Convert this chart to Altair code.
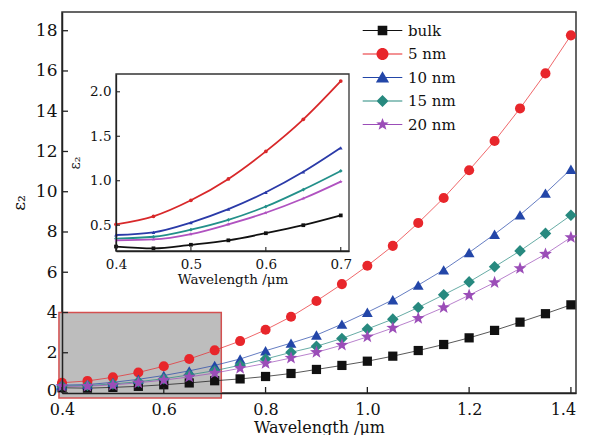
import altair as alt
import pandas as pd

# ---------------- data ----------------
wavelength = [0.40, 0.45, 0.50, 0.55, 0.60, 0.65, 0.70, 0.75, 0.80, 0.85, 0.90,
              0.95, 1.00, 1.05, 1.10, 1.15, 1.20, 1.25, 1.30, 1.35, 1.40]
series_names = ["bulk", "5 nm", "10 nm", "15 nm", "20 nm"]

bulk = [0.26, 0.24, 0.28, 0.33, 0.41, 0.50, 0.61, 0.70, 0.82, 0.97, 1.17,
        1.37, 1.58, 1.83, 2.11, 2.41, 2.74, 3.11, 3.52, 3.94, 4.38]
nm5 = [0.51, 0.60, 0.78, 1.02, 1.33, 1.69, 2.12, 2.58, 3.14, 3.79, 4.57,
       5.41, 6.32, 7.31, 8.45, 9.69, 11.07, 12.52, 14.14, 15.88, 17.77]
nm10 = [0.39, 0.42, 0.53, 0.68, 0.87, 1.10, 1.37, 1.69, 2.10, 2.48, 2.88,
        3.42, 4.01, 4.63, 5.36, 6.12, 6.98, 7.89, 8.85, 9.93, 11.12]
nm15 = [0.35, 0.37, 0.45, 0.56, 0.71, 0.90, 1.11, 1.38, 1.69, 2.02, 2.32,
        2.71, 3.18, 3.67, 4.25, 4.88, 5.52, 6.27, 7.06, 7.93, 8.83]
nm20 = [0.33, 0.34, 0.40, 0.51, 0.64, 0.80, 0.99, 1.23, 1.47, 1.74, 2.02,
        2.38, 2.79, 3.23, 3.71, 4.25, 4.86, 5.49, 6.19, 6.90, 7.73]

main_x_ticks = [0.4, 0.6, 0.8, 1.0, 1.2, 1.4]
main_y_ticks = [0, 2, 4, 6, 8, 10, 12, 14, 16, 18]
inset_x_ticks = [0.4, 0.5, 0.6, 0.7]
inset_y_ticks = [0.5, 1.0, 1.5, 2.0]

main_x_domain = [0.4, 1.41]
main_y_domain = [0, 18.93]
inset_x_domain = [0.4, 0.711]
inset_y_domain = [0.21, 2.2]
zoom_box_x = [0.394, 0.713]
zoom_box_y = [-0.25, 4.0]

# ---------------- styles ----------------
FONT = "DejaVu Serif"
W, H = 514, 381
INSET_X_RANGE = [54, 287]
INSET_Y_RANGE = [239, 62]

marker_colors = ["#111111", "#e8262b", "#2346a8", "#27897f", "#9b4db8"]
inset_colors = ["#111111", "#d8282a", "#2a3aa8", "#23908a", "#b052c0"]

STAR = ("M0,-1.1L0.27,-0.37L1.05,-0.34L0.43,0.14L0.65,0.89L0,0.45"
        "L-0.65,0.89L-0.43,0.14L-1.05,-0.34L-0.27,-0.37Z")
LINE = "M-3.3,-0.09H3.3V0.09H-3.3Z "
legend_paths = [
    LINE + "M-0.8,-0.8H0.8V0.8H-0.8Z",
    LINE + "M1,0A1,1,0,1,1,-1,0A1,1,0,1,1,1,0Z",
    LINE + "M0,-1.05L1.1,0.85H-1.1Z",
    LINE + "M0,-1L1,0L0,1L-1,0Z",
    LINE + STAR,
]

rows = []
for name, vals in zip(series_names, [bulk, nm5, nm10, nm15, nm20]):
    for w, v in zip(wavelength, vals):
        rows.append({"wl": w, "eps": v, "series": name})
df = pd.DataFrame(rows)
inset_df = df[df["wl"] <= 0.7001]

common_axis = dict(tickSize=0, grid=False, domainColor="#222", labelColor="#111",
                   titleColor="#111", titleFontWeight="normal", labelFlush=False,
                   labelFont=FONT, titleFont=FONT, zindex=1)

# ---------------- main panel ----------------
xs_main = alt.Scale(domain=main_x_domain, nice=False, zero=False)
ys_main = alt.Scale(domain=main_y_domain, nice=False, zero=False)
main_x_axis = alt.Axis(values=main_x_ticks, format=".1f", title="Wavelength /μm",
                       labelFontSize=16, titleFontSize=16, labelPadding=8,
                       titlePadding=2, domainWidth=1.5,
                       labelOffset=alt.ConditionalAxisNumber(
                           condition={"test": "datum.value >= 1.39", "value": -8}, value=0),
                       **common_axis)
main_y_axis = alt.Axis(values=main_y_ticks, format="d", title="ε₂",
                       labelFontSize=17, titleFontSize=17, labelPadding=5,
                       titlePadding=7, domainWidth=1.5,
                       labelOffset=alt.ConditionalAxisNumber(
                           condition={"test": "datum.value == 0", "value": -3}, value=0),
                       **common_axis)

cmain = alt.Scale(domain=series_names, range=marker_colors)
smain = alt.Scale(domain=series_names, range=["square", "circle", "triangle-up", "diamond", STAR])
zmain = alt.Scale(domain=series_names, range=[85, 150, 135, 110, 140])

box_df = pd.DataFrame({"x0": [zoom_box_x[0]], "x1": [zoom_box_x[1]],
                       "y0": [zoom_box_y[0]], "y1": [zoom_box_y[1]]})
zoom_box = alt.Chart(box_df).mark_rect(fill="#bdbdbd", stroke="#d45050", strokeWidth=1.5).encode(
    x=alt.X("x0:Q", scale=xs_main, axis=main_x_axis), x2="x1",
    y=alt.Y("y0:Q", scale=ys_main, axis=main_y_axis), y2="y1")

main_lines = alt.Chart(df).mark_line(strokeWidth=1, opacity=0.7).encode(
    x=alt.X("wl:Q", scale=xs_main, axis=main_x_axis),
    y=alt.Y("eps:Q", scale=ys_main, axis=main_y_axis),
    color=alt.Color("series:N", scale=cmain, legend=None))

main_points = alt.Chart(df).mark_point(filled=True, opacity=1, strokeWidth=0).encode(
    x=alt.X("wl:Q", scale=xs_main, axis=main_x_axis),
    y=alt.Y("eps:Q", scale=ys_main, axis=main_y_axis),
    color=alt.Color("series:N", scale=cmain, legend=None),
    shape=alt.Shape("series:N", scale=smain, legend=None),
    size=alt.Size("series:N", scale=zmain, legend=None))

main_xt = alt.Chart(pd.DataFrame({"t": main_x_ticks})).mark_rule(color="#222", strokeWidth=1.3).encode(
    x=alt.X("t:Q", scale=xs_main, axis=main_x_axis), y=alt.value(H), y2=alt.value(H - 6))
main_yt = alt.Chart(pd.DataFrame({"t": main_y_ticks})).mark_rule(color="#222", strokeWidth=1.3).encode(
    y=alt.Y("t:Q", scale=ys_main, axis=main_y_axis), x=alt.value(0), x2=alt.value(6))

main = alt.layer(zoom_box, main_lines, main_points, main_xt, main_yt)

# ---------------- inset panel ----------------
xs_in = alt.Scale(domain=inset_x_domain, range=INSET_X_RANGE, nice=False, zero=False)
ys_in = alt.Scale(domain=inset_y_domain, range=INSET_Y_RANGE, nice=False, zero=False)
inset_x_axis = alt.Axis(orient="bottom", offset=INSET_Y_RANGE[0] - H, values=inset_x_ticks,
                        format=".1f", title="Wavelength /μm", labelFontSize=13.5,
                        titleFontSize=13.5, labelPadding=6, titlePadding=2,
                        domainWidth=1.3, **common_axis)
inset_y_axis = alt.Axis(orient="left", offset=-INSET_X_RANGE[0], values=inset_y_ticks,
                        format=".1f", title="ε₂", labelFontSize=13.5, titleFontSize=14,
                        labelPadding=5, titlePadding=7, domainWidth=1.3, **common_axis)
cin = alt.Scale(domain=series_names, range=inset_colors)
sin_ = alt.Scale(domain=series_names, range=["square", "circle", "triangle-up", "diamond", STAR])

frame_df = pd.DataFrame({"x0": [inset_x_domain[0]], "x1": [inset_x_domain[1]],
                         "y0": [inset_y_domain[0]], "y1": [inset_y_domain[1]]})
inset_frame = alt.Chart(frame_df).mark_rect(fill="white", stroke="#333", strokeWidth=1.3).encode(
    x=alt.X("x0:Q", scale=xs_in, axis=inset_x_axis), x2="x1",
    y=alt.Y("y0:Q", scale=ys_in, axis=inset_y_axis), y2="y1")
inset_lines = alt.Chart(inset_df).mark_line(strokeWidth=1.8, interpolate="monotone").encode(
    x=alt.X("wl:Q", scale=xs_in, axis=inset_x_axis),
    y=alt.Y("eps:Q", scale=ys_in, axis=inset_y_axis),
    color=alt.Color("series:N", scale=cin, legend=None))
inset_points = alt.Chart(inset_df).mark_point(filled=True, opacity=1, size=14, strokeWidth=0).encode(
    x=alt.X("wl:Q", scale=xs_in, axis=inset_x_axis),
    y=alt.Y("eps:Q", scale=ys_in, axis=inset_y_axis),
    color=alt.Color("series:N", scale=cin, legend=None),
    shape=alt.Shape("series:N", scale=sin_, legend=None))
inset_xt = alt.Chart(pd.DataFrame({"t": inset_x_ticks})).mark_rule(color="#222", strokeWidth=1.1).encode(
    x=alt.X("t:Q", scale=xs_in, axis=inset_x_axis),
    y=alt.value(INSET_Y_RANGE[0]), y2=alt.value(INSET_Y_RANGE[0] - 4))
inset_yt = alt.Chart(pd.DataFrame({"t": inset_y_ticks})).mark_rule(color="#222", strokeWidth=1.1).encode(
    y=alt.Y("t:Q", scale=ys_in, axis=inset_y_axis),
    x=alt.value(INSET_X_RANGE[0]), x2=alt.value(INSET_X_RANGE[0] + 4))

inset = alt.layer(inset_frame, inset_lines, inset_points, inset_xt, inset_yt)

# ---------------- legend ----------------
leg = alt.Legend(orient="none", legendX=313, legendY=11, title=None, labelFont=FONT,
                 labelFontSize=15, labelColor="#111", symbolSize=144, labelOffset=18,
                 rowPadding=7.5, padding=0, symbolStrokeWidth=0, symbolOpacity=1,
                 labelLimit=200)
legend_layer = alt.Chart(pd.DataFrame({"series": series_names})).mark_point(
    filled=True, opacity=0).encode(
    color=alt.Color("series:N", scale=alt.Scale(domain=series_names, range=marker_colors), legend=leg),
    shape=alt.Shape("series:N", scale=alt.Scale(domain=series_names, range=legend_paths), legend=leg))

chart = alt.layer(main, inset, legend_layer).resolve_scale(
    x="independent", y="independent", color="independent", shape="independent", size="independent"
).properties(
    width=W, height=H,
    autosize=alt.AutoSizeParams(type="none"),
    padding={"left": 54, "top": 4, "right": 5, "bottom": 42},
    background="white",
).configure_view(stroke="#333", strokeWidth=1.5).configure_axis(
    labelFont=FONT, titleFont=FONT
)

chart.save("out.html", embed_options={"renderer": "svg", "actions": False})
